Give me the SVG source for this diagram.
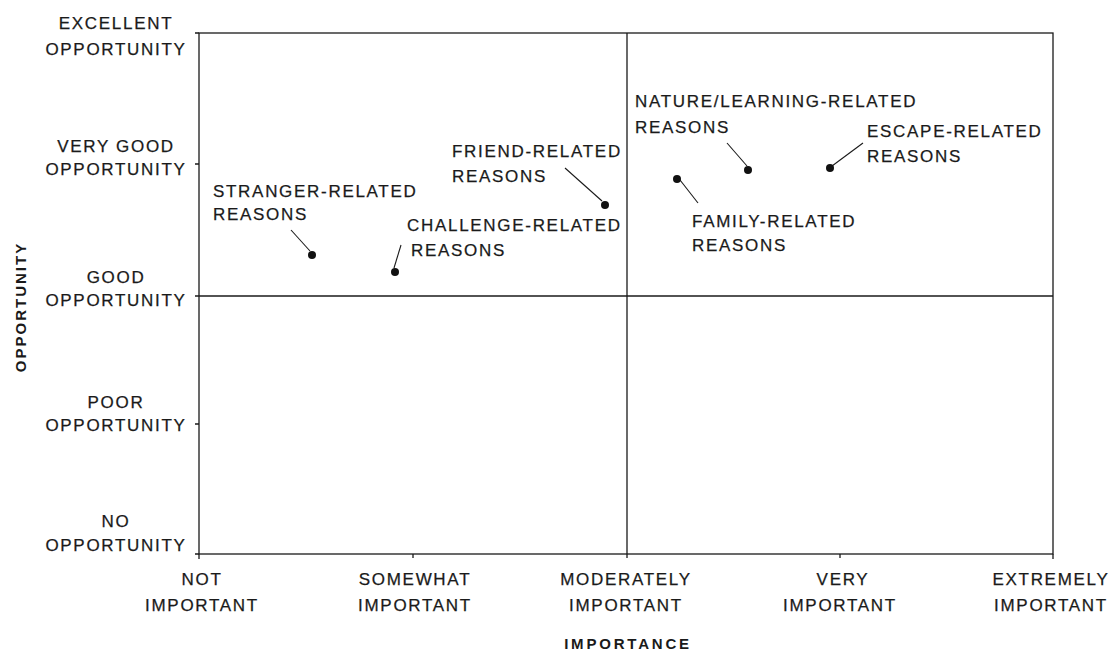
<svg xmlns="http://www.w3.org/2000/svg" width="1115" height="652" viewBox="0 0 1115 652">
<style>
.t{font-family:"Liberation Sans",Arial,sans-serif;font-size:17px;fill:#1a1a1a;stroke:#1a1a1a;stroke-width:0.25;letter-spacing:1.7px}
.m{text-anchor:middle}
.ax{font-family:"Liberation Sans",Arial,sans-serif;font-size:15px;font-weight:bold;fill:#1a1a1a;letter-spacing:2px;text-anchor:middle}
.f{fill:none;stroke:#1a1a1a;stroke-width:1.3}
.l{stroke:#1a1a1a;stroke-width:1.1}
.d{fill:#111}
</style>
<rect width="1115" height="652" fill="#fff"/>
<g id="frame">
<rect class="f" x="199" y="33" width="854" height="521"/>
<line class="f" x1="627" y1="33" x2="627" y2="554"/>
<line class="f" x1="199" y1="296" x2="1053" y2="296"/>
<path class="f" d="M195 33H199M195 164H199M195 296H199M195 424H199M195 554H199M199 554V559M413 554V558M627 554V558M840 554V558M1053 554V559"/>
</g>
<g id="y-labels">
<text class="t m" x="116" y="29">EXCELLENT</text>
<text class="t m" x="116" y="55">OPPORTUNITY</text>
<text class="t m" x="116" y="152">VERY GOOD</text>
<text class="t m" x="116" y="175">OPPORTUNITY</text>
<text class="t m" x="116" y="283">GOOD</text>
<text class="t m" x="116" y="306">OPPORTUNITY</text>
<text class="t m" x="116" y="408">POOR</text>
<text class="t m" x="116" y="431">OPPORTUNITY</text>
<text class="t m" x="116" y="527">NO</text>
<text class="t m" x="116" y="551">OPPORTUNITY</text>
<text class="ax" transform="translate(26,307) rotate(-90)">OPPORTUNITY</text>
</g>
<g id="x-labels">
<text class="t m" x="202" y="585">NOT</text>
<text class="t m" x="202" y="611">IMPORTANT</text>
<text class="t m" x="415" y="585">SOMEWHAT</text>
<text class="t m" x="415" y="611">IMPORTANT</text>
<text class="t m" x="626" y="585">MODERATELY</text>
<text class="t m" x="626" y="611">IMPORTANT</text>
<text class="t m" x="843" y="585">VERY</text>
<text class="t m" x="840" y="611">IMPORTANT</text>
<text class="t m" x="1051" y="585">EXTREMELY</text>
<text class="t m" x="1051" y="611">IMPORTANT</text>
<text class="ax" x="628" y="649" style="letter-spacing:2.8px">IMPORTANCE</text>
</g>
<g id="connectors">
<line class="l" x1="291" y1="230" x2="310" y2="251"/>
<line class="l" x1="401" y1="245" x2="394" y2="268"/>
<line class="l" x1="565" y1="168" x2="602" y2="201"/>
<line class="l" x1="680" y1="180" x2="698" y2="203"/>
<line class="l" x1="727" y1="143" x2="747" y2="166"/>
<line class="l" x1="863" y1="143" x2="832" y2="166"/>
</g>
<g id="stranger">
<circle class="d" cx="312" cy="255" r="4"/>
<text class="t" x="213" y="197">STRANGER-RELATED</text>
<text class="t" x="213" y="220">REASONS</text>
</g>
<g id="challenge">
<circle class="d" cx="395" cy="272" r="4"/>
<text class="t" x="407" y="231">CHALLENGE-RELATED</text>
<text class="t" x="411" y="256">REASONS</text>
</g>
<g id="friend">
<circle class="d" cx="605" cy="205" r="4"/>
<text class="t" x="452" y="157">FRIEND-RELATED</text>
<text class="t" x="452" y="182">REASONS</text>
</g>
<g id="family">
<circle class="d" cx="677" cy="179" r="4"/>
<text class="t" x="692" y="227">FAMILY-RELATED</text>
<text class="t" x="692" y="251">REASONS</text>
</g>
<g id="nature">
<circle class="d" cx="748" cy="170" r="4"/>
<text class="t" x="635" y="107">NATURE/LEARNING-RELATED</text>
<text class="t" x="635" y="133">REASONS</text>
</g>
<g id="escape">
<circle class="d" cx="830" cy="168" r="4"/>
<text class="t" x="867" y="137">ESCAPE-RELATED</text>
<text class="t" x="867" y="162">REASONS</text>
</g>
</svg>
